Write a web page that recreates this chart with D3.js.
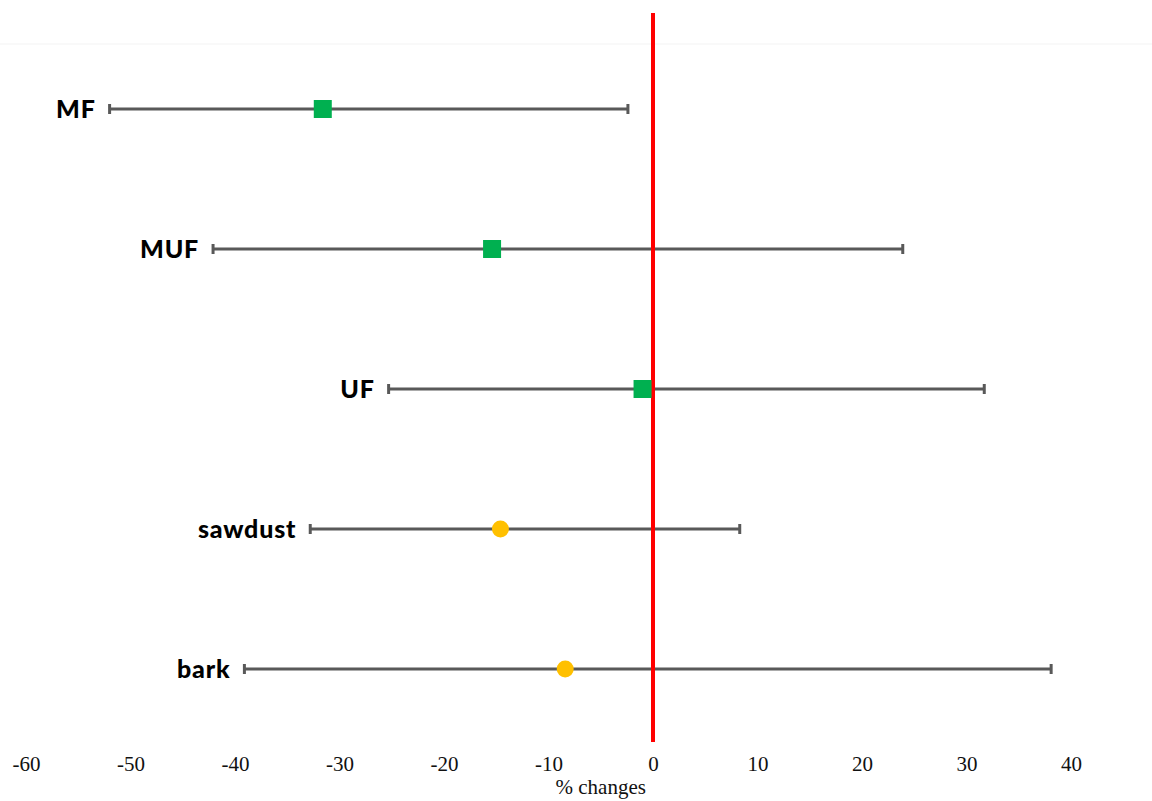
<!DOCTYPE html>
<html>
<head>
<meta charset="utf-8">
<script src="https://cdn.jsdelivr.net/npm/d3@7/dist/d3.min.js"></script>
<style>
  html, body { margin: 0; padding: 0; background: #ffffff; }
  svg { display: block; }
</style>
</head>
<body>
<svg id="chart" width="1152" height="801"></svg>
<script>
// Treatment groups, top to bottom
const categories = ["MF", "MUF", "UF", "sawdust", "bark"];
// Mean % change and the lower / upper limits of each interval
const means = [-31.6, -15.4, -1.0, -14.6, -8.4];
const lower = [-52.0, -42.1, -25.3, -32.8, -39.1];
const upper = [-2.4, 23.9, 31.7, 8.3, 38.1];
// Marker shape per group
const shapes = ["square", "square", "square", "circle", "circle"];
// X axis tick values
const tickValues = [-60, -50, -40, -30, -20, -10, 0, 10, 20, 30, 40];
const axisTitle = "% changes";

const svg = d3.select("#chart");
const W = 1152, H = 801;

const x = d3.scaleLinear().domain([-60, 40]).range([26, 1071]);
const y = d3.scalePoint().domain(categories).range([109, 669]);

const rows = categories.map((c, i) => ({
  cat: c, mean: means[i], lo: lower[i], hi: upper[i], shape: shapes[i]
}));

// faint frame line along the top of the plot area
svg.append("line")
  .attr("x1", 0).attr("x2", W)
  .attr("y1", 44).attr("y2", 44)
  .attr("stroke", "#f3f3f3").attr("stroke-width", 1);

// error bars
const bars = svg.append("g").attr("class", "errorbars");
bars.selectAll("line.whisker").data(rows).join("line")
  .attr("class", "whisker")
  .attr("x1", d => x(d.lo)).attr("x2", d => x(d.hi))
  .attr("y1", d => y(d.cat)).attr("y2", d => y(d.cat))
  .attr("stroke", "#595959").attr("stroke-width", 3);
bars.selectAll("line.capL").data(rows).join("line")
  .attr("class", "capL")
  .attr("x1", d => x(d.lo)).attr("x2", d => x(d.lo))
  .attr("y1", d => y(d.cat) - 5).attr("y2", d => y(d.cat) + 5)
  .attr("stroke", "#595959").attr("stroke-width", 3);
bars.selectAll("line.capR").data(rows).join("line")
  .attr("class", "capR")
  .attr("x1", d => x(d.hi)).attr("x2", d => x(d.hi))
  .attr("y1", d => y(d.cat) - 5).attr("y2", d => y(d.cat) + 5)
  .attr("stroke", "#595959").attr("stroke-width", 3);

// reference line at zero change
svg.append("line")
  .attr("x1", x(0)).attr("x2", x(0))
  .attr("y1", 13).attr("y2", 742)
  .attr("stroke", "#ff0000").attr("stroke-width", 4);

// markers
const marks = svg.append("g").attr("class", "markers");
const sq = 18;
marks.selectAll("rect").data(rows.filter(d => d.shape === "square")).join("rect")
  .attr("x", d => x(d.mean) - sq / 2)
  .attr("y", d => y(d.cat) - sq / 2)
  .attr("width", sq).attr("height", sq)
  .attr("fill", "#00b050");
marks.selectAll("circle").data(rows.filter(d => d.shape === "circle")).join("circle")
  .attr("cx", d => x(d.mean))
  .attr("cy", d => y(d.cat))
  .attr("r", 8.5)
  .attr("fill", "#ffc000");

// group labels, to the left of each interval
svg.append("g").attr("class", "labels")
  .selectAll("text").data(rows).join("text")
  .attr("x", d => x(d.lo) - 14)
  .attr("y", d => y(d.cat))
  .attr("dy", "0.35em")
  .attr("text-anchor", "end")
  .attr("font-family", "Lato, 'DejaVu Sans', sans-serif")
  .attr("font-weight", 900)
  .attr("font-size", 25)
  .attr("letter-spacing", "0.8px")
  .attr("fill", "#000")
  .text(d => d.cat);

// x axis (labels only)
const axis = d3.axisBottom(x).tickValues(tickValues).tickSize(0).tickPadding(0)
  .tickFormat(d => String(d));
const gx = svg.append("g").attr("transform", "translate(0,756)").call(axis);
gx.select(".domain").remove();
gx.selectAll("text")
  .attr("font-family", "'Liberation Serif', 'Times New Roman', serif")
  .attr("font-size", 21)
  .attr("fill", "#111")
  .attr("dy", "0.71em");

svg.append("text")
  .attr("x", x(-5))
  .attr("y", 794)
  .attr("text-anchor", "middle")
  .attr("font-family", "'Liberation Serif', 'Times New Roman', serif")
  .attr("font-size", 21)
  .attr("fill", "#111")
  .text(axisTitle);
</script>
</body>
</html>
